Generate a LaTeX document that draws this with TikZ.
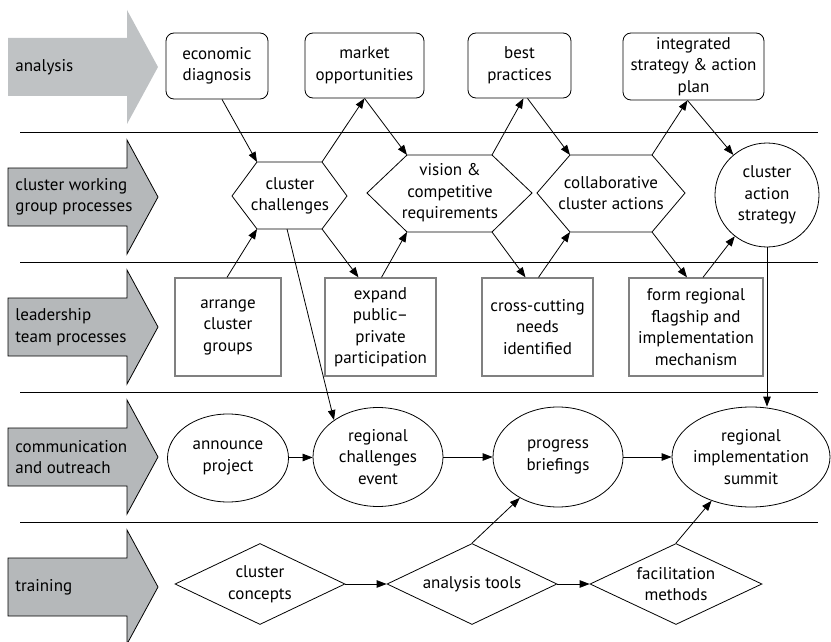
\documentclass[tikz,border=0pt]{standalone}
\usepackage{fontspec}
\setmainfont{PT Sans}
\usepackage{xcolor}
\usetikzlibrary{shapes.geometric,arrows.meta}
\definecolor{band}{rgb}{0.71, 0.72, 0.73}
\definecolor{lightband}{rgb}{0.75, 0.76, 0.77}
\definecolor{boxline}{rgb}{0.5, 0.5, 0.5}

\begin{document}
\begin{tikzpicture}[x=1pt, y=-1pt, line width=0.8pt,
  font=\fontsize{17}{21.5}\selectfont,
  arr/.style={-{Triangle[length=10pt,width=7.5pt]}},
  rbox/.style={draw, rounded corners=8pt, align=center, inner sep=1pt},
  gbox/.style={draw=boxline, line width=1.3pt, align=center, inner sep=1pt},
  oval/.style={ellipse, draw, inner sep=0pt},
  gem/.style={diamond, draw, inner sep=0pt},
  txt/.style={align=center, inner sep=0pt}]
\useasboundingbox (0,0) rectangle (831,642);

% left band arrows
\draw [fill=lightband, draw=none] (8,38) -- (127,38) -- (127,10) -- (158,67) -- (127,124) -- (127,96) -- (8,96) -- cycle;
\node [txt, anchor=west] (lab1) at (15,67) {analysis};
\foreach \c in {197,327,457,587}
  \draw [fill=band] (8,\c-29) -- (127,\c-29) -- (127,\c-57) -- (158,\c) -- (127,\c+57) -- (127,\c+29) -- (8,\c+29) -- cycle;
\node [txt, anchor=west, align=left] (lab2) at (15,197) {cluster working\\group processes};
\node [txt, anchor=west, align=left] (lab3) at (15,327) {leadership\\team processes};
\node [txt, anchor=west, align=left] (lab4) at (15,457) {communication\\and outreach};
\node [txt, anchor=west, align=left] (lab5) at (15,587) {training};

% row rules
\foreach \y in {132,262,392,522}
  \draw (20,\y) -- (818,\y);

% analysis
\node [rbox, minimum width=102, minimum height=66] (econ) at (217,66) {economic\\diagnosis};
\node [rbox, minimum width=119, minimum height=65] (market) at (364.5,65.5) {market\\opportunities};
\node [rbox, minimum width=103, minimum height=65] (best) at (519.5,65.5) {best\\practices};
\node [rbox, minimum width=141, minimum height=67] (integ) at (693.5,66.5) {integrated\\strategy \& action\\plan};

% cluster working group
\draw (232,196) coordinate (chW) -- (257,162) coordinate (chNW) -- (322,162) coordinate (chNE)
  -- (347,196) coordinate (chE) -- (322,229) coordinate (chSE) -- (257,229) coordinate (chSW) -- cycle;
\coordinate (chB) at (287,229);
\node [txt] (ch) at (290,196) {cluster\\challenges};
\draw (367,193) coordinate (visW) -- (407,155) coordinate (visNW) -- (492,155) coordinate (visNE)
  -- (532,193) coordinate (visE) -- (492,232) coordinate (visSE) -- (407,232) coordinate (visSW) -- cycle;
\node [txt] (vis) at (450,193) {vision \&\\competitive\\requirements};
\draw (537,193) coordinate (colW) -- (570,155) coordinate (colNW) -- (652,155) coordinate (colNE)
  -- (685,193) coordinate (colE) -- (652,232) coordinate (colSE) -- (570,232) coordinate (colSW) -- cycle;
\node [txt] (col) at (611,193) {collaborative\\cluster actions};
\node [circle, draw, minimum size=104, inner sep=0pt, align=center] (cas) at (767,195) {cluster\\action\\strategy};

% leadership team
\node [gbox, minimum width=106, minimum height=98] (arrange) at (228,327) {arrange\\cluster\\groups};
\node [gbox, minimum width=111, minimum height=98] (expand) at (380.5,327) {expand\\public--\\private\\participation};
\node [gbox, minimum width=111, minimum height=98] (cross) at (537.5,327) {cross-cutting\\needs\\identified};
\node [gbox, minimum width=134, minimum height=98] (form) at (696,327) {form regional\\flagship and\\implementation\\mechanism};

% communication
\node [oval, minimum width=121, minimum height=88, label={[txt]center:announce\\project}] (announce) at (228,458) {};
\node [oval, minimum width=130, minimum height=99, label={[txt]center:regional\\challenges\\event}] (rce) at (378,457) {};
\node [oval, minimum width=130, minimum height=100, label={[txt]center:progress\\briefings}] (prog) at (558,457) {};
\node [oval, minimum width=158, minimum height=100, label={[txt]center:regional\\implementation\\summit}] (summit) at (751,457) {};

% training
\node [gem, minimum width=170, minimum height=81, label={[txt]center:cluster\\concepts}] (concepts) at (260,584) {};
\node [gem, minimum width=170, minimum height=81, label={[txt]center:analysis tools}] (tools) at (472,584) {};
\node [gem, minimum width=172, minimum height=81, label={[txt]center:facilitation\\methods}] (facil) at (676,584) {};

% connectors
\draw [arr] ([xshift=5pt]econ.south) -- (chNW);
\draw [arr] (chNE) -- (market.south);
\draw [arr] (market.south) -- (visNW);
\draw [arr] (visNE) -- ([xshift=4pt]best.south);
\draw [arr] ([xshift=8pt]best.south) -- (colNW);
\draw [arr] (colNE) -- ([xshift=-6pt]integ.south);
\draw [arr] ([xshift=-6pt]integ.south) -- (cas.130);
\draw [arr] ([xshift=-1pt]arrange.north) -- (chSW);
\draw [arr] (chSE) -- ([xshift=-22pt]expand.north);
\draw [arr] ([xshift=1pt]expand.north) -- (visSW);
\draw [arr] (visSE) -- ([xshift=-12pt]cross.north);
\draw [arr] ([xshift=1pt]cross.north) -- (colSW);
\draw [arr] (colSE) -- ([xshift=-9pt]form.north);
\draw [arr] ([xshift=7pt]form.north) -- (cas.232);
\draw [arr] (chB) -- (rce.140);
\draw [arr] (cas.south) -- (cas.south |- summit.north);
\draw [arr] (announce) -- (rce);
\draw [arr] (rce) -- (prog);
\draw [arr] (prog) -- (summit);
\draw [arr] (concepts) -- (tools);
\draw [arr] (tools) -- (facil);
\draw [arr] (tools.north) -- (prog.227);
\draw [arr] (facil.north) -- (summit.228);
\end{tikzpicture}
\end{document}
